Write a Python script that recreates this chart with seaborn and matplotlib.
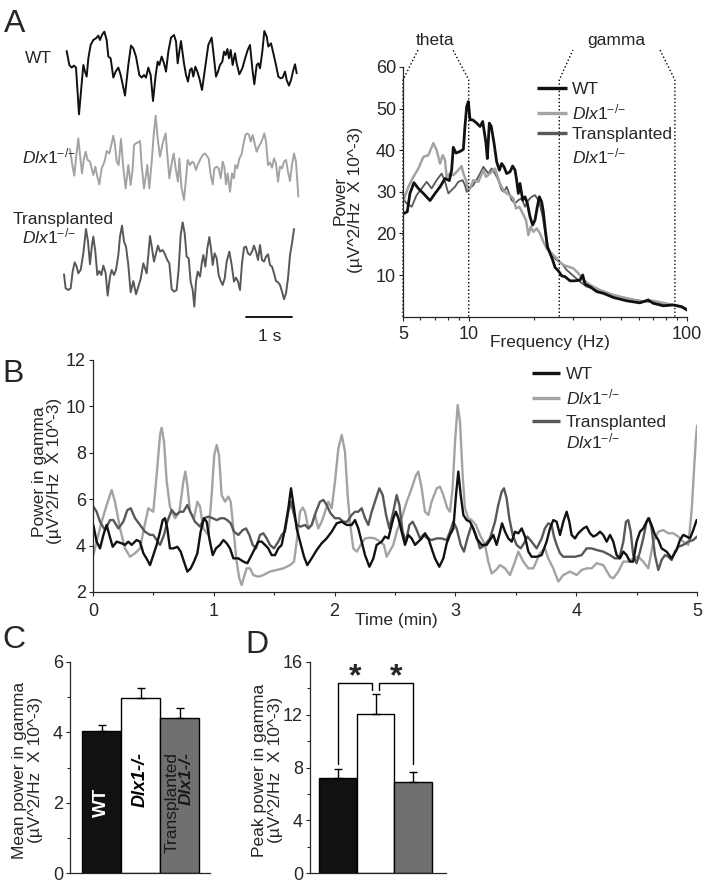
import matplotlib
matplotlib.use("Agg")
import matplotlib.pyplot as plt
from matplotlib.lines import Line2D
from matplotlib.ticker import NullFormatter
import seaborn as sns
import numpy as np
import pandas as pd

# ---------------- data ----------------
# A: raw LFP traces (time in s, amplitude in a.u.)
trace_t_wt = [-0.007, 0.051, 0.101, 0.152, 0.196, 0.261, 0.304, 0.355, 0.391, 0.428,
              0.464, 0.514, 0.572, 0.630, 0.681, 0.717, 0.768, 0.812, 0.862, 0.899,
              0.949, 1.007, 1.058, 1.116, 1.167, 1.261, 1.333, 1.391, 1.442, 1.500,
              1.572, 1.623, 1.674, 1.717, 1.768, 1.819, 1.870, 1.928, 1.971, 2.007,
              2.058, 2.109, 2.152, 2.203, 2.261, 2.326, 2.370, 2.406, 2.442, 2.478,
              2.543, 2.587, 2.630, 2.674, 2.710, 2.746, 2.790, 2.833, 2.877, 2.935,
              2.986, 3.072, 3.145, 3.196, 3.239, 3.283, 3.326, 3.377, 3.413, 3.449,
              3.486, 3.522, 3.558, 3.601, 3.652, 3.688, 3.746, 3.812, 3.877, 3.928,
              3.978, 4.036, 4.072, 4.123, 4.159, 4.196, 4.246, 4.290, 4.341, 4.377,
              4.435, 4.486, 4.543, 4.594, 4.645, 4.688, 4.739, 4.775, 4.826, 4.870,
              4.920, 4.957, 4.993]
trace_wt = [67.3, 53.3, 50.7, 52.7, 50.7, 4.0, 26.7, 53.3, 46.7, 41.7,
            60.0, 73.3, 78.3, 80.0, 82.7, 78.3, 84.0, 86.7, 78.3, 61.7,
            60.0, 40.7, 46.7, 50.7, 43.3, 22.7, 53.3, 72.7, 70.0, 61.7,
            43.3, 40.7, 43.3, 40.7, 50.7, 43.3, 17.3, 43.3, 56.7, 53.3,
            61.7, 55.0, 46.7, 66.7, 80.7, 83.3, 76.7, 55.0, 66.7, 77.3,
            55.0, 43.3, 36.7, 48.3, 50.0, 41.7, 51.7, 46.7, 40.0, 28.3,
            45.0, 73.3, 80.7, 60.0, 41.7, 46.7, 53.3, 56.7, 66.7, 63.3,
            69.3, 60.0, 68.3, 53.3, 65.0, 55.0, 44.0, 50.0, 60.7, 68.3,
            73.3, 46.7, 34.0, 53.3, 55.0, 50.0, 66.7, 87.3, 81.7, 71.7,
            75.0, 65.0, 53.3, 41.7, 40.0, 40.7, 46.7, 38.3, 32.7, 38.3,
            48.3, 54.0, 45.0]

trace_t_ko = [0.065, 0.116, 0.159, 0.196, 0.246, 0.283, 0.326, 0.370, 0.406, 0.449,
              0.500, 0.536, 0.572, 0.616, 0.659, 0.703, 0.754, 0.790, 0.826, 0.862,
              0.920, 0.971, 1.007, 1.043, 1.080, 1.123, 1.174, 1.225, 1.275, 1.333,
              1.384, 1.428, 1.457, 1.500, 1.543, 1.587, 1.623, 1.674, 1.717, 1.746,
              1.790, 1.841, 1.884, 1.928, 1.971, 2.022, 2.072, 2.109, 2.145, 2.181,
              2.225, 2.275, 2.319, 2.362, 2.413, 2.442, 2.486, 2.543, 2.587, 2.623,
              2.674, 2.725, 2.761, 2.804, 2.841, 2.891, 2.949, 2.993, 3.036, 3.080,
              3.123, 3.167, 3.203, 3.254, 3.297, 3.341, 3.384, 3.420, 3.457, 3.493,
              3.543, 3.587, 3.630, 3.659, 3.703, 3.746, 3.790, 3.833, 3.877, 3.920,
              3.957, 3.993, 4.036, 4.080, 4.123, 4.167, 4.210, 4.254, 4.290, 4.326,
              4.370, 4.413, 4.457, 4.500, 4.543, 4.587, 4.630, 4.674, 4.717, 4.761,
              4.804, 4.848, 4.891, 4.935, 4.978, 5.029]
trace_ko = [52.7, 36.7, 26.0, 43.3, 63.3, 46.7, 28.3, 43.3, 50.0, 41.7,
            40.0, 33.3, 26.7, 35.0, 25.0, 17.3, 33.3, 37.3, 41.7, 50.7,
            48.3, 58.3, 66.0, 56.7, 40.0, 36.7, 62.7, 33.3, 13.3, 36.7,
            16.7, 33.3, 56.7, 58.3, 59.3, 60.7, 36.7, 13.3, 26.7, 36.7,
            13.3, 40.0, 66.7, 86.0, 63.3, 45.0, 56.7, 63.3, 68.3, 46.7,
            23.3, 38.3, 48.3, 33.3, 20.0, 43.3, 15.0, 1.7, 23.3, 41.7,
            36.7, 40.0, 38.3, 31.7, 36.7, 41.7, 46.7, 48.3, 46.0, 43.3,
            26.7, 17.3, 33.3, 35.0, 33.3, 23.3, 40.0, 35.0, 17.3, 28.3,
            10.0, 28.3, 23.3, 36.7, 33.3, 43.3, 46.7, 56.7, 66.7, 68.3,
            66.7, 60.0, 66.7, 58.3, 50.0, 55.0, 58.3, 63.3, 68.3, 60.0,
            36.7, 39.3, 34.0, 43.3, 38.3, 20.0, 35.0, 33.3, 40.0, 41.7,
            30.0, 20.7, 36.7, 48.3, 40.0, 5.0]

trace_t_tr = [-0.065, -0.029, 0.029, 0.080, 0.123, 0.167, 0.210, 0.246, 0.297, 0.355,
              0.413, 0.457, 0.500, 0.543, 0.572, 0.616, 0.659, 0.703, 0.746, 0.790,
              0.841, 0.884, 0.935, 0.971, 1.022, 1.065, 1.116, 1.152, 1.196, 1.239,
              1.283, 1.333, 1.384, 1.442, 1.500, 1.551, 1.601, 1.659, 1.696, 1.732,
              1.768, 1.804, 1.848, 1.891, 1.935, 1.978, 2.022, 2.080, 2.130, 2.181,
              2.225, 2.275, 2.326, 2.384, 2.428, 2.471, 2.514, 2.558, 2.601, 2.645,
              2.688, 2.732, 2.768, 2.804, 2.841, 2.891, 2.935, 2.964, 3.007, 3.051,
              3.094, 3.130, 3.167, 3.210, 3.254, 3.297, 3.341, 3.384, 3.428, 3.471,
              3.529, 3.580, 3.630, 3.674, 3.717, 3.761, 3.804, 3.848, 3.891, 3.935,
              3.978, 4.022, 4.065, 4.109, 4.152, 4.196, 4.239, 4.283, 4.326, 4.370,
              4.413, 4.457, 4.500, 4.543, 4.587, 4.630, 4.674, 4.717, 4.761, 4.804,
              4.848, 4.891, 4.935]
trace_tr = [34.0, 20.0, 18.3, 20.0, 36.7, 46.0, 41.7, 35.0, 38.3, 55.0,
            79.3, 66.7, 44.0, 63.3, 71.7, 56.7, 33.3, 37.3, 33.3, 42.7,
            35.0, 12.7, 31.7, 38.3, 33.3, 38.3, 53.3, 71.7, 82.7, 66.7,
            61.7, 43.3, 16.0, 27.3, 14.0, 21.7, 29.3, 45.0, 40.0, 35.0,
            53.3, 72.3, 60.0, 46.7, 55.0, 62.7, 56.7, 58.3, 54.0, 48.3,
            45.0, 19.3, 16.7, 18.3, 40.0, 73.3, 86.0, 75.0, 51.7, 50.0,
            26.7, 18.3, 1.7, 26.7, 36.7, 31.7, 46.7, 53.3, 41.7, 60.0,
            71.3, 60.0, 43.3, 55.0, 50.0, 33.3, 27.3, 23.3, 30.0, 46.7,
            56.7, 43.3, 26.7, 30.7, 26.7, 18.3, 45.0, 60.7, 61.7, 55.0,
            53.3, 56.7, 62.7, 56.7, 48.3, 63.3, 48.3, 46.7, 51.7, 54.0,
            43.3, 41.7, 35.0, 27.3, 26.0, 23.3, 16.7, 9.0, 15.0, 30.0,
            53.3, 65.0, 79.3]

# A: power spectra (Hz, uV^2/Hz x 10^-3)
spec_f_wt = [5.00, 5.23, 5.38, 5.61, 5.88, 6.20, 6.65, 7.01, 7.39, 7.79,
             8.15, 8.35, 8.50, 8.74, 9.12, 9.45, 9.61, 9.79, 9.96, 10.14,
             10.43, 10.88, 11.27, 11.59, 12.00, 12.17, 12.43, 12.69, 13.06, 13.43,
             13.82, 14.16, 14.51, 14.92, 15.46, 15.90, 16.30, 16.58, 16.88, 17.18,
             17.67, 18.11, 18.56, 19.09, 19.63, 20.12, 20.62, 21.06, 21.58, 21.97,
             22.44, 22.92, 23.58, 24.25, 24.86, 25.75, 26.67, 27.62, 29.11, 30.69,
             32.35, 33.28, 34.11, 35.96, 38.57, 41.38, 45.96, 52.89, 60.86, 66.45,
             70.04, 77.83, 86.55, 94.53, 99.65]
spec_wt = [24.7, 25.2, 29.6, 32.2, 30.8, 29.6, 27.9, 29.6, 31.2, 33.2,
           32.7, 35.2, 40.7, 39.3, 39.7, 40.2, 45.7, 50.5, 51.7, 47.3,
           47.3, 46.5, 45.7, 46.9, 41.7, 38.0, 46.5, 45.7, 41.7, 37.2,
           35.2, 36.8, 36.0, 34.4, 34.8, 36.2, 35.2, 32.8, 29.6, 32.0,
           28.0, 28.8, 27.2, 24.0, 22.0, 23.2, 26.4, 28.8, 27.6, 25.2,
           20.8, 16.8, 15.2, 13.6, 11.8, 11.0, 9.8, 9.6, 8.6, 8.6,
           8.8, 10.0, 7.8, 7.2, 6.0, 5.6, 4.6, 3.8, 3.3, 4.0,
           3.2, 2.6, 2.8, 2.4, 1.6]

spec_f_ko = [5.00, 5.29, 5.58, 5.88, 6.20, 6.53, 6.89, 7.13, 7.39, 7.60,
             7.79, 7.92, 8.21, 8.50, 8.96, 9.28, 9.45, 9.72, 9.96, 10.21,
             10.50, 11.07, 11.67, 12.00, 12.52, 13.20, 13.43, 13.91, 14.41, 14.92,
             15.46, 16.01, 16.47, 17.06, 17.67, 18.30, 18.76, 19.22, 19.77, 20.48,
             21.21, 21.97, 22.76, 23.99, 25.30, 26.20, 27.14, 28.61, 30.15, 31.79,
             33.52, 35.96, 39.95, 45.96, 52.89, 60.86, 70.04, 77.83, 86.55, 94.53,
             99.0]
spec_ko = [27.6, 31.2, 33.6, 35.6, 38.4, 38.8, 41.7, 40.0, 36.8, 38.8,
           37.6, 33.6, 34.4, 34.0, 35.2, 36.2, 34.4, 32.8, 30.4, 31.2,
           32.8, 32.4, 35.2, 33.6, 34.4, 35.6, 34.4, 32.0, 30.4, 29.6,
           29.2, 28.4, 26.0, 26.4, 24.8, 23.2, 19.6, 21.6, 20.4, 21.2,
           20.0, 18.0, 16.4, 15.2, 14.0, 13.0, 12.4, 12.0, 11.6, 10.4,
           8.8, 7.6, 6.4, 5.2, 4.4, 3.6, 3.8, 3.3, 2.8, 2.2,
           2.0]

spec_f_tr = [5.00, 5.20, 5.48, 5.77, 6.09, 6.42, 6.76, 7.13, 7.52, 7.79,
             8.07, 8.35, 8.65, 8.96, 9.38, 9.61, 9.79, 10.14, 10.50, 11.07,
             11.67, 12.30, 12.74, 13.20, 13.67, 14.16, 14.51, 14.92, 15.73, 16.30,
             16.88, 17.48, 18.11, 18.76, 19.43, 20.12, 21.06, 21.81, 22.44, 23.16,
             23.99, 25.30, 26.67, 28.11, 30.15, 32.35, 34.72, 38.57, 42.86, 49.31,
             56.74, 65.29, 75.14, 86.55]
spec_tr = [28.4, 27.2, 26.4, 29.2, 30.8, 32.4, 30.8, 32.8, 34.4, 32.4,
           29.6, 30.4, 31.2, 32.4, 32.8, 31.6, 30.0, 30.8, 31.6, 33.6,
           36.0, 34.4, 35.6, 34.4, 32.8, 30.4, 30.0, 31.2, 28.0, 27.2,
           28.0, 28.4, 26.4, 28.0, 28.8, 29.2, 27.6, 24.0, 20.0, 16.4,
           14.8, 13.6, 12.8, 11.2, 9.8, 8.4, 7.2, 6.4, 5.6, 4.8,
           4.1, 3.6, 3.2, 2.8]

theta_band = [5, 10]
gamma_band = [26, 88]

# B: power in gamma over time (min)
gam_t_wt = [0.003, 0.030, 0.058, 0.086, 0.113, 0.135, 0.163, 0.196, 0.237, 0.265,
            0.292, 0.320, 0.361, 0.389, 0.417, 0.450, 0.472, 0.499, 0.527, 0.555,
            0.577, 0.596, 0.615, 0.637, 0.665, 0.698, 0.726, 0.753, 0.781, 0.809,
            0.836, 0.864, 0.891, 0.919, 0.941, 0.963, 0.991, 1.018, 1.051, 1.079,
            1.107, 1.134, 1.162, 1.203, 1.245, 1.278, 1.313, 1.341, 1.369, 1.396,
            1.424, 1.451, 1.479, 1.507, 1.534, 1.562, 1.589, 1.617, 1.639, 1.664,
            1.686, 1.714, 1.747, 1.774, 1.810, 1.852, 1.893, 1.934, 1.976, 2.017,
            2.059, 2.100, 2.141, 2.169, 2.196, 2.224, 2.252, 2.288, 2.321, 2.348,
            2.390, 2.417, 2.445,
            2.486, 2.508, 2.528, 2.555, 2.583, 2.610, 2.638, 2.666, 2.693, 2.721,
            2.748, 2.776, 2.803, 2.831, 2.867, 2.900, 2.928, 2.955, 2.983, 3.005,
            3.024, 3.044, 3.066, 3.093, 3.121, 3.148, 3.176, 3.217, 3.259, 3.286,
            3.314, 3.341, 3.363, 3.386, 3.411, 3.438, 3.466, 3.493, 3.521, 3.549,
            3.576, 3.604, 3.631, 3.673, 3.714, 3.755, 3.783, 3.810, 3.838, 3.866,
            3.893, 3.921, 3.943, 3.962, 3.990, 4.017, 4.059, 4.086, 4.114, 4.142,
            4.169, 4.197, 4.224, 4.252, 4.280, 4.307, 4.335, 4.362, 4.390, 4.417,
            4.445, 4.472, 4.500, 4.528, 4.555, 4.597, 4.624, 4.652, 4.680, 4.707,
            4.748, 4.790, 4.831, 4.859, 4.886, 4.914, 4.942, 4.969, 4.997]
gam_wt = [4.89, 4.17, 3.88, 4.46, 4.89, 4.46, 3.95, 4.17, 4.10, 4.03,
          4.17, 4.03, 4.24, 4.17, 3.67, 3.38, 3.16, 3.59, 4.03, 4.60,
          5.10, 5.18, 4.74, 3.88, 3.88, 3.95, 3.74, 3.31, 2.88, 3.02,
          3.31, 3.67, 4.60, 5.18, 5.03, 4.31, 3.59, 3.88, 4.03, 4.24,
          4.10, 3.88, 3.45, 3.45, 3.31, 3.24, 3.59, 3.88, 4.17, 4.17,
          4.03, 3.88, 3.59, 3.59, 3.88, 4.03, 4.74, 5.61, 6.47, 5.61,
          4.74, 4.17, 3.52, 3.16, 3.45, 3.81, 4.10, 4.31, 4.60, 4.96,
          5.03, 4.89, 4.89, 5.10, 4.74, 4.17, 3.59, 3.09, 3.45, 4.03,
          4.17, 4.39, 4.31,
          5.18, 5.46, 5.18, 4.60, 4.03, 4.46, 4.31, 4.03, 4.17, 4.31,
          4.53, 4.31, 3.88, 3.45, 3.09, 3.45, 4.10, 4.46, 4.74, 6.18,
          7.19, 6.18, 5.32, 5.10, 5.03, 4.74, 4.31, 4.03, 4.03, 4.24,
          4.46, 4.03, 4.46, 4.96, 4.60, 4.31, 4.17, 4.60, 4.53, 4.74,
          4.39, 3.74, 3.52, 3.52, 3.59, 4.17, 4.74, 5.10, 5.03, 4.46,
          5.03, 5.46, 5.03, 4.46, 4.31, 4.53, 4.74, 4.82, 4.53, 4.39,
          4.46, 4.60, 4.46, 4.17, 4.46, 4.17, 3.59, 3.45, 3.74, 3.59,
          3.31, 3.31, 4.17, 4.60, 4.74, 5.18, 4.89, 4.46, 4.24, 3.88,
          3.74, 3.45, 3.81, 4.24, 4.46, 4.39, 4.31, 4.67, 5.10]

gam_t_ko = [0.003, 0.030, 0.072, 0.113, 0.155, 0.182, 0.224, 0.265, 0.306, 0.348,
            0.389, 0.422, 0.458, 0.499, 0.527, 0.555, 0.568, 0.588, 0.610, 0.637,
            0.679, 0.715, 0.748, 0.764, 0.781, 0.803, 0.836, 0.864, 0.886, 0.913,
            0.955, 0.982, 1.004, 1.024, 1.043, 1.065, 1.093, 1.120, 1.140, 1.162,
            1.189, 1.211, 1.231, 1.250, 1.272, 1.300, 1.327, 1.369, 1.410, 1.465,
            1.520, 1.576, 1.631, 1.664, 1.686, 1.714, 1.736, 1.755, 1.783, 1.810,
            1.838, 1.865, 1.893, 1.921, 1.948, 1.976, 2.003, 2.031, 2.059, 2.086,
            2.108, 2.133, 2.155, 2.183, 2.216, 2.252, 2.293, 2.334, 2.376, 2.409,
            2.431,
            2.486, 2.514, 2.555, 2.597, 2.638, 2.674, 2.693, 2.721, 2.748, 2.776,
            2.803, 2.845, 2.872, 2.900, 2.933, 2.955, 2.977, 2.997, 3.019, 3.038,
            3.060, 3.079, 3.107, 3.134, 3.170, 3.203, 3.245, 3.272, 3.300, 3.336,
            3.369, 3.411, 3.452, 3.493, 3.521, 3.562, 3.604, 3.645, 3.700, 3.741,
            3.769, 3.810, 3.852, 3.893, 3.948, 4.004, 4.045, 4.086, 4.128, 4.169,
            4.224, 4.280, 4.307, 4.349, 4.390, 4.431, 4.472, 4.514, 4.555, 4.597,
            4.638, 4.680, 4.721, 4.762, 4.804, 4.845, 4.886, 4.928, 4.955, 4.975,
            4.991, 5.000]
gam_ko = [3.59, 4.17, 5.03, 5.75, 6.40, 5.89, 4.74, 3.88, 3.52, 3.67,
          3.88, 4.74, 5.61, 5.46, 7.04, 8.77, 9.08, 8.48, 6.76, 5.68,
          5.18, 5.46, 6.76, 7.19, 6.61, 5.46, 5.18, 5.89, 5.68, 4.74,
          4.46, 6.18, 7.91, 8.34, 7.91, 6.18, 5.89, 6.11, 5.89, 4.74,
          3.31, 2.59, 2.30, 2.66, 3.02, 3.02, 2.73, 2.66, 2.73, 2.88,
          2.95, 3.02, 3.16, 3.31, 4.17, 5.46, 5.64, 5.46, 4.74, 4.89,
          5.32, 4.74, 5.03, 5.46, 5.89, 5.61, 6.76, 8.19, 8.77, 8.05,
          6.18, 4.74, 3.88, 3.74, 4.03, 4.31, 4.34, 4.31, 4.17, 4.03,
          3.52,
          4.03, 4.60, 5.18, 5.89, 6.47, 7.04, 7.19, 6.47, 5.46, 5.32,
          5.89, 6.47, 6.54, 6.18, 5.61, 5.46, 6.47, 8.48, 10.06, 9.34,
          7.04, 5.61, 5.18, 5.10, 4.89, 4.46, 4.03, 3.31, 2.80, 2.95,
          3.16, 3.02, 2.73, 3.31, 3.74, 3.31, 3.02, 3.02, 3.67, 3.88,
          3.45, 3.02, 2.45, 2.73, 2.88, 2.73, 2.95, 3.02, 3.02, 3.24,
          3.16, 2.66, 2.59, 2.88, 3.31, 3.31, 3.45, 3.52, 3.31, 3.02,
          4.17, 4.60, 4.67, 4.53, 4.53, 4.39, 4.17, 4.03, 5.46, 7.19,
          8.62, 9.17]

gam_t_tr = [0.003, 0.030, 0.058, 0.099, 0.141, 0.168, 0.210, 0.251, 0.284, 0.312,
            0.348, 0.389, 0.430, 0.472, 0.499, 0.527, 0.555, 0.588, 0.615, 0.651,
            0.687, 0.720, 0.748, 0.781, 0.811, 0.844, 0.886, 0.919, 0.955, 0.991,
            1.024, 1.057, 1.084, 1.112, 1.140, 1.167, 1.203, 1.239, 1.267, 1.294,
            1.322, 1.349, 1.382, 1.410, 1.438, 1.465, 1.498, 1.534, 1.562, 1.589,
            1.617, 1.639, 1.658, 1.686, 1.719, 1.755, 1.783, 1.810, 1.846, 1.879,
            1.907, 1.934, 1.967, 2.003, 2.039, 2.072, 2.105, 2.141, 2.169, 2.196,
            2.224, 2.252, 2.279, 2.307, 2.343, 2.370, 2.398, 2.426, 2.453,
            2.486, 2.514, 2.536, 2.563, 2.591, 2.619, 2.646, 2.674, 2.707, 2.735,
            2.768, 2.803, 2.845, 2.886, 2.928, 2.955, 2.983, 3.010, 3.044, 3.071,
            3.099, 3.134, 3.170, 3.203, 3.245, 3.286, 3.328, 3.355, 3.383, 3.402,
            3.424, 3.446, 3.474, 3.507, 3.540, 3.568, 3.596, 3.631, 3.673, 3.714,
            3.741, 3.769, 3.796, 3.816, 3.838, 3.866, 3.893, 3.935, 3.990, 4.045,
            4.086, 4.128, 4.169, 4.224, 4.280, 4.321, 4.357, 4.390, 4.412, 4.431,
            4.451, 4.472, 4.500, 4.528, 4.555, 4.583, 4.605, 4.624, 4.652, 4.680,
            4.707, 4.735, 4.762, 4.790, 4.817, 4.845, 4.886, 4.928, 4.969, 5.000]
gam_tr = [5.68, 5.46, 5.03, 4.67, 5.10, 5.10, 4.74, 5.03, 5.53, 5.61,
          5.18, 4.89, 4.60, 4.46, 4.46, 4.24, 4.03, 4.46, 5.03, 5.53,
          5.32, 5.46, 5.46, 5.75, 5.39, 5.03, 4.82, 5.18, 5.25, 5.18,
          5.10, 5.18, 5.18, 5.10, 4.96, 4.60, 4.46, 4.67, 4.74, 4.46,
          4.03, 3.88, 4.46, 4.53, 4.31, 4.03, 3.88, 4.17, 4.46, 4.60,
          5.46, 5.89, 5.46, 4.89, 4.82, 4.89, 4.74, 4.89, 5.46, 5.89,
          5.97, 5.75, 5.39, 5.18, 5.18, 5.03, 5.03, 5.32, 5.46, 5.46,
          5.61, 5.18, 4.89, 5.46, 6.04, 6.47, 6.18, 5.32, 4.74,
          5.46, 6.18, 5.75, 4.60, 4.17, 4.89, 5.03, 4.74, 4.31, 4.46,
          4.31, 4.24, 4.31, 4.31, 4.24, 4.60, 5.03, 4.74, 4.03, 3.74,
          4.31, 4.89, 4.46, 3.88, 4.03, 4.31, 5.03, 5.75, 6.32, 6.47,
          6.04, 5.18, 4.46, 4.03, 3.88, 4.10, 4.39, 4.17, 3.88, 4.31,
          4.74, 4.96, 4.89, 4.39, 4.03, 3.67, 3.52, 3.52, 3.52, 3.59,
          3.88, 3.88, 3.81, 3.74, 3.59, 3.45, 3.45, 4.17, 5.03, 5.10,
          4.60, 3.59, 3.24, 3.74, 4.31, 5.03, 5.18, 4.74, 3.59, 2.95,
          3.38, 3.59, 3.52, 3.38, 3.74, 3.95, 4.03, 4.17, 4.24, 4.39]

# C / D: group summaries
groups = ['WT', 'Dlx1-/-', 'Transplanted Dlx1-/-']
mean_gamma = [4.04, 4.97, 4.42]
mean_gamma_sem = [0.18, 0.29, 0.27]
peak_gamma = [7.22, 12.02, 6.90]
peak_gamma_sem = [0.66, 1.52, 0.73]

# ---------------- style ----------------
sns.set_style("ticks")
plt.rcParams['font.family'] = ['Liberation Sans', 'DejaVu Sans']
plt.rcParams['mathtext.fontset'] = 'custom'
plt.rcParams['mathtext.rm'] = 'Liberation Sans'
plt.rcParams['mathtext.it'] = 'Liberation Sans:italic'
plt.rcParams['axes.linewidth'] = 0.9
plt.rcParams['font.size'] = 12.5

WT_C, KO_C, TR_C = '#111111', '#a3a3a3', '#585858'
BAR_C = ['#111111', '#ffffff', '#707070']
DLX = r'$\mathit{Dlx1}^{{-}/{-}}$'
YLAB2 = '(\u00b5V^2/Hz  X 10^-3)'

W, H = 705, 883
fig = plt.figure(figsize=(W / 100, H / 100), dpi=100)


def box(l, t, r, b):
    return fig.add_axes([l / W, 1 - b / H, (r - l) / W, (b - t) / H])


def ftext(x, y, s, **kw):
    fig.text(x / W, 1 - y / H, s, **kw)


def fline(x0, x1, y, **kw):
    fig.add_artist(Line2D([x0 / W, x1 / W], [1 - y / H, 1 - y / H],
                          transform=fig.transFigure, solid_capstyle='butt', **kw))


def axstyle(ax):
    sns.despine(ax=ax)
    ax.tick_params(direction='out', length=3, width=0.8, labelsize=13, pad=2)
    ax.tick_params(axis='x', pad=3.5)
    ax.tick_params(which='minor', direction='out', length=2.2, width=0.8)


def line(ax, x, y, color, lw):
    sns.lineplot(x=x, y=y, ax=ax, color=color, linewidth=lw,
                 estimator=None, sort=False, errorbar=None)


# ---------------- A: traces ----------------
ax = box(60, 20, 300, 335)
line(ax, trace_t_wt, np.asarray(trace_wt) - 118.3, WT_C, 1.4)
line(ax, trace_t_ko, np.asarray(trace_ko) - 201.7, KO_C, 1.4)
line(ax, trace_t_tr, np.asarray(trace_tr) - 308.3, TR_C, 1.4)
ax.set_xlim(-0.152, 5.065)
ax.set_ylim(-335, -20)
ax.axis('off')
ax.plot([3.9, 4.9], [-317, -317], color='black', lw=1.3)
ax.text(4.4, -341, '1 s', ha='center', va='baseline', fontsize=12.5)

ftext(4, 32, 'A', fontsize=23, va='baseline')
ftext(25, 63, 'WT', va='baseline')
ftext(22, 163, DLX, va='baseline')
ftext(13, 224, 'Transplanted', va='baseline')
ftext(22, 243, DLX, va='baseline')

# ---------------- A: spectrum ----------------
ax = box(403, 67, 687, 316.6)
line(ax, spec_f_tr, spec_tr, TR_C, 1.3)
line(ax, spec_f_ko, spec_ko, KO_C, 1.8)
line(ax, spec_f_wt, spec_wt, WT_C, 2.0)
ax.set_xscale('log')
ax.set_xlim(5, 100)
ax.set_ylim(0, 60)
ax.set_xticks([5, 10, 100], labels=['5', '10', '100'])
ax.set_xticks([6, 7, 8, 9, 20, 30, 40, 50, 60, 70, 80, 90], minor=True)
ax.xaxis.set_minor_formatter(NullFormatter())
ax.set_yticks([10, 20, 30, 40, 50, 60])
axstyle(ax)
ax.set_xlabel('Frequency (Hz)', fontsize=12.5)
ax.xaxis.set_label_coords(0.518, -0.074)
ax.set_ylabel('Power\n' + YLAB2, fontsize=12.5, linespacing=1.05)
ax.yaxis.set_label_coords(-0.141, 0.467)
for band, tops, name in ((theta_band, (5.86, 8.47), 'theta'),
                         (gamma_band, (30.0, 75.2), 'gamma')):
    for edge, top in zip(band, tops):
        ax.plot([edge, edge, top], [0, 56.9, 64.1], ls=':', color='black',
                lw=1.0, clip_on=False)
    ax.text(np.sqrt(tops[0] * tops[1]), 65.3, name, ha='center',
            va='baseline', fontsize=12.5, clip_on=False)

for y, c, lw in ((88, WT_C, 2.4), (113, KO_C, 2.4), (133, TR_C, 2.4)):
    fline(537, 567, y, color=c, lw=lw)
ftext(572, 94, 'WT', va='baseline')
ftext(572, 119, DLX, va='baseline')
ftext(572, 139, 'Transplanted', va='baseline')
ftext(572, 163, DLX, va='baseline')

# ---------------- B ----------------
ax = box(93, 360, 697, 592)
line(ax, gam_t_ko, gam_ko, KO_C, 1.7)
line(ax, gam_t_tr, gam_tr, TR_C, 1.7)
line(ax, gam_t_wt, gam_wt, WT_C, 1.7)
ax.set_xlim(0, 5)
ax.set_ylim(2, 12)
ax.set_xticks(range(6))
ax.set_xticks([0.5, 1.5, 2.5, 3.5, 4.5], minor=True)
ax.set_yticks(range(2, 13, 2))
axstyle(ax)
ax.tick_params(axis='x', pad=5)
ax.set_xlabel('Time (min)', fontsize=12.5)
ax.xaxis.set_label_coords(0.503, -0.09)
ax.set_ylabel('Power in gamma\n' + YLAB2, fontsize=12.5, linespacing=1.05)
ax.yaxis.set_label_coords(-0.051, 0.52)
ftext(2, 382, 'B', fontsize=23, va='baseline')

for y, c in ((373, WT_C), (398, KO_C), (421, TR_C)):
    fline(532, 560, y, color=c, lw=2.4)
ftext(566, 379, 'WT', va='baseline')
ftext(566, 404, DLX, va='baseline')
ftext(566, 427, 'Transplanted', va='baseline')
ftext(566, 448, DLX, va='baseline')


# ---------------- C / D ----------------
def bars(ax, vals, sems):
    df = pd.DataFrame({'group': groups, 'value': vals})
    sns.barplot(data=df, x='group', y='value', hue='group', palette=BAR_C,
                width=1.0, edgecolor='black', linewidth=1.0, errorbar=None,
                legend=False, ax=ax)
    ax.errorbar(range(3), vals, yerr=[[0, 0, 0], sems], fmt='none',
                ecolor='black', elinewidth=1.0, capsize=3, capthick=1.0, zorder=5)
    axstyle(ax)
    ax.set_xticks([])
    ax.set_xlabel('')
    ax.tick_params(axis='x', length=0)


ax = box(70, 662, 210, 873)
bars(ax, mean_gamma, mean_gamma_sem)
ax.set_xlim(-0.808, 2.782)
ax.set_ylim(0, 6)
ax.set_yticks([0, 2, 4, 6])
ax.set_yticks([1, 3, 5], minor=True)
ax.set_ylabel('Mean power in gamma\n' + YLAB2, fontsize=12.5, linespacing=1.05)
ax.yaxis.set_label_coords(-0.193, 0.488)
ax.text(0, 2.0, 'WT', rotation=90, color='white', fontweight='bold',
        ha='center', va='center', fontsize=13.5)
ax.text(1.0, 3.44, 'Dlx1-/-', rotation=90, color='black', fontweight='bold',
        style='italic', ha='center', va='top', fontsize=13)
ax.text(1.80, 3.44, 'Transplanted', rotation=90, color='#1a1a1a',
        ha='center', va='top', fontsize=12.5)
ax.text(2.16, 3.44, 'Dlx1-/-', rotation=90, color='#1a1a1a', fontweight='bold',
        style='italic', ha='center', va='top', fontsize=12.5)
ftext(2, 648, 'C', fontsize=23, va='baseline')

ax = box(310, 662, 446, 873)
bars(ax, peak_gamma, peak_gamma_sem)
ax.set_xlim(-0.739, 2.871)
ax.set_ylim(0, 16)
ax.set_yticks([0, 4, 8, 12, 16])
ax.set_yticks([2, 6, 10, 14], minor=True)
ax.set_ylabel('Peak power in gamma\n' + YLAB2, fontsize=12.5, linespacing=1.05)
ax.yaxis.set_label_coords(-0.199, 0.488)
ax.plot([0, 0, 0.9, 0.9], [8.3, 14.4, 14.4, 13.9], color='black', lw=1.0,
        clip_on=False)
ax.plot([1.1, 1.1, 2, 2], [13.9, 14.4, 14.4, 8.3], color='black', lw=1.0,
        clip_on=False)
for xs in (0.45, 1.55):
    ax.text(xs, 14.2, '*', ha='center', va='baseline', fontsize=23,
            fontweight='bold', clip_on=False)
ftext(245, 653, 'D', fontsize=23, va='baseline')

fig.savefig('out.png', dpi=100)
